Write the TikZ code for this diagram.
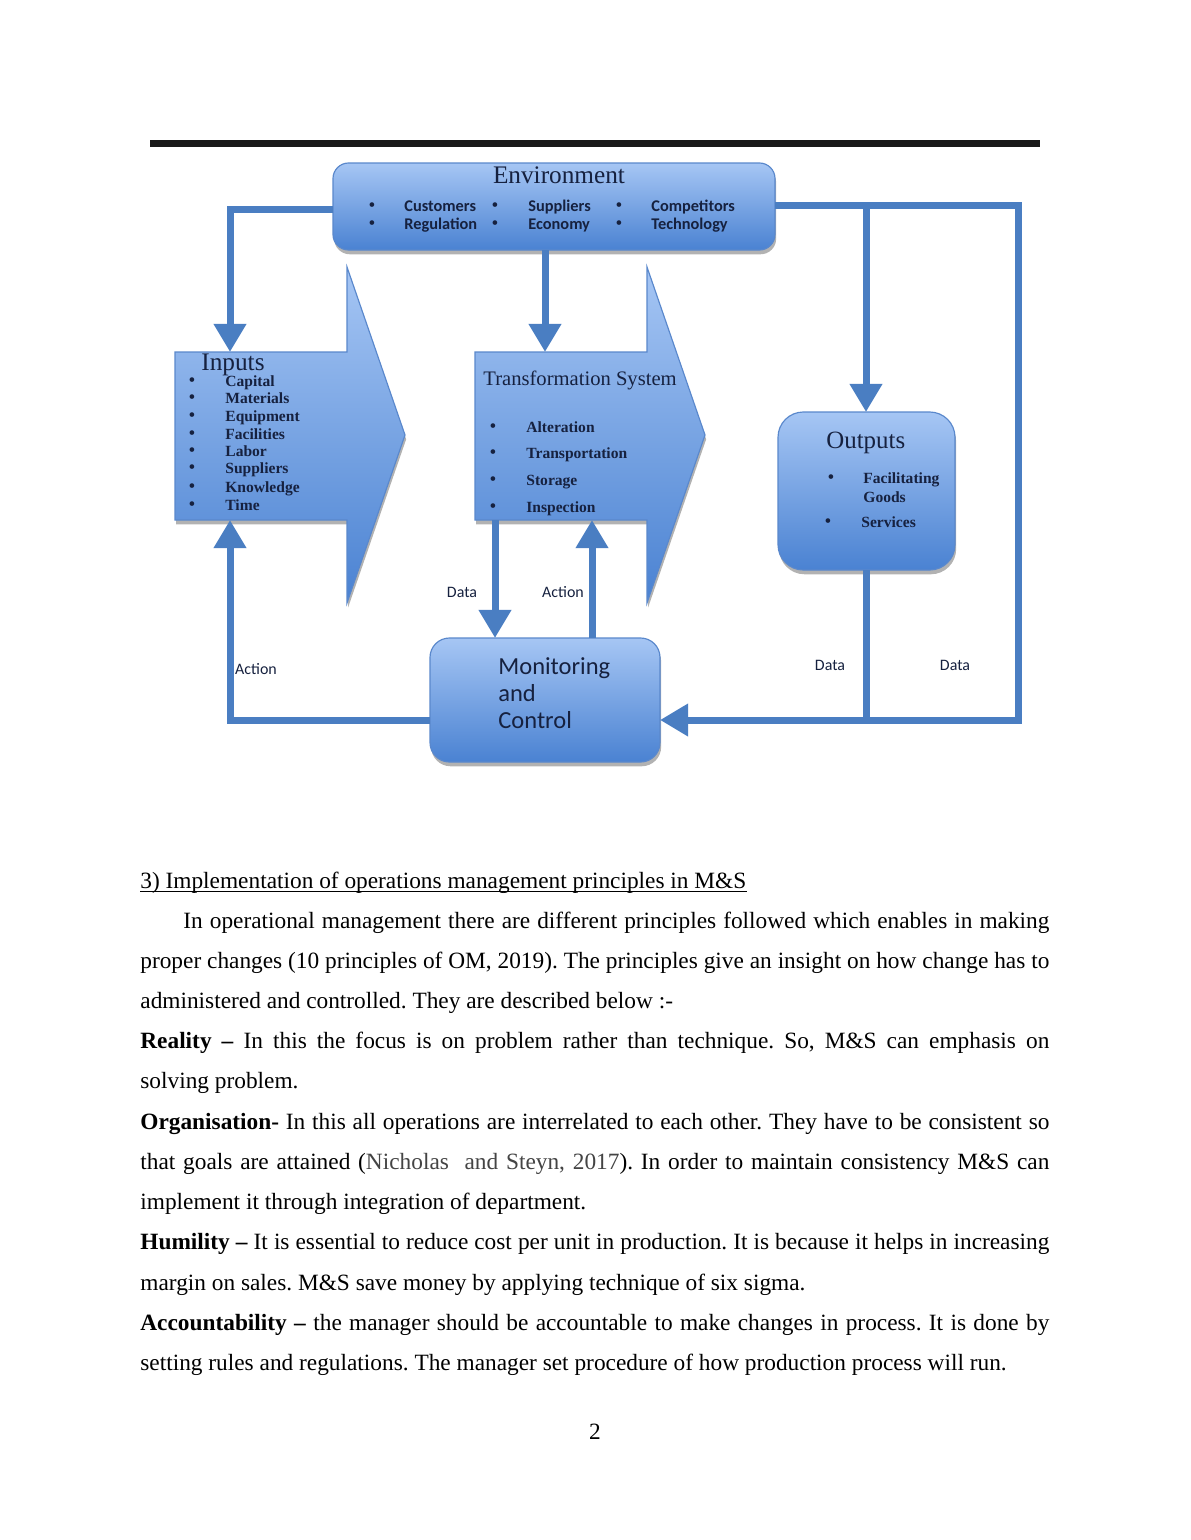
\documentclass[tikz,border=0pt]{standalone}
\usepackage{fontspec}
\setmainfont{Liberation Serif}
\newfontfamily\carl{Carlito}
\usetikzlibrary{arrows.meta,shadows}
\frenchspacing
\definecolor{boxtop}{HTML}{A6C6F4}
\definecolor{boxbot}{HTML}{4A82D2}
\definecolor{linec}{HTML}{4A7EC2}
\definecolor{edgec}{HTML}{5A88CC}
\definecolor{ink}{HTML}{16213F}
\definecolor{citec}{HTML}{444444}
\def\pxu{0.5143pt}
\tikzset{
  boxsh/.style={drop shadow={shadow xshift=0.6pt,shadow yshift=-2.2pt,opacity=0.3,fill=black}},
  bluebox/.style={draw=edgec,line width=0.6pt,top color=boxtop,bottom color=boxbot,boxsh},
  ghost/.style={inner sep=0pt,outer sep=0pt},
  conn/.style={draw=linec,line width=3.6pt},
  tipped/.style={-{Triangle[length=14.5pt,width=16pt]}},
  lbl/.style={inner sep=0pt,anchor=base,text=ink,font=\carl\fontsize{8.2}{9}\selectfont},
  itemtxt/.style={inner sep=0pt,anchor=base west,text=ink,font=\bfseries\fontsize{8}{9}\selectfont},
  envitem/.style={inner sep=0pt,anchor=base west,text=ink,font=\carl\bfseries\fontsize{8.4}{9}\selectfont},
  bul/.style={inner sep=0pt,anchor=base,text=ink,font=\fontsize{10}{11}\selectfont},
  bodyt/.style={inner sep=0pt,anchor=base west,font=\fontsize{12}{14}\selectfont},
}
\begin{document}
\begin{tikzpicture}[x=0.5143pt,y=-0.5143pt]
\useasboundingbox (0,0) rectangle (1190,1540);
\fill[white] (0,0) rectangle (1190,1540);

% top bar
\draw[line width=3.6pt,black!90] (150,143) -- (1040,143);

% helper coordinates
\coordinate (xL) at (230,209);
\coordinate (xT) at (545,0);
\coordinate (xR) at (1018,205);
\coordinate (xO) at (866,205);
\coordinate (yB) at (0,720);
\coordinate (xD) at (495,0);
\coordinate (xA) at (592,0);

% Environment
\node[bluebox,ghost,rounded corners=8pt,minimum width=442*\pxu,minimum height=87*\pxu] (env) at (554,206.5) {};
\node[inner sep=0pt,anchor=base,text=ink,font=\fontsize{13}{14}\selectfont] (envt) at (559,183) {Environment};
\node[bul] (eb1) at (372,211) {\textbullet};
\node[bul] (eb2) at (372,229) {\textbullet};
\node[bul] (eb3) at (495,211) {\textbullet};
\node[bul] (eb4) at (495,229) {\textbullet};
\node[bul] (eb5) at (619,211) {\textbullet};
\node[bul] (eb6) at (619,229) {\textbullet};
\node[envitem] (e1) at (404,211) {Customers};
\node[envitem] (e2) at (404,229) {Regulation};
\node[envitem] (e3) at (528,211) {Suppliers};
\node[envitem] (e4) at (528,229) {Economy};
\node[envitem] (e5) at (651,211) {Competitors};
\node[envitem] (e6) at (651,229) {Technology};

% Inputs arrow
\node[ghost,minimum width=172*\pxu,minimum height=168*\pxu] (inb) at (261,436) {};
\path[bluebox] (inb.north west) -- (inb.north east) -- ++(0,-85) -- ++(58,168) -- ++(-58,168) -- (inb.south east) -- (inb.south west) -- cycle;
\node[inner sep=0pt,anchor=base west,text=ink,font=\fontsize{13}{14}\selectfont] (int) at (201,370) {Inputs};
\foreach \t/\yy [count=\i] in {Capital/386,Materials/403,Equipment/421,Facilities/439,Labor/456,Suppliers/473,Knowledge/492,Time/510}{
  \node[bul] (ib\i) at (192,\yy) {\textbullet};
  \node[itemtxt] (ii\i) at (225,\yy) {\t};
}

% Transformation arrow
\node[ghost,minimum width=172*\pxu,minimum height=168*\pxu] (tsb) at (561,436) {};
\path[bluebox] (tsb.north west) -- (tsb.north east) -- ++(0,-85) -- ++(58,168) -- ++(-58,168) -- (tsb.south east) -- (tsb.south west) -- cycle;
\node[inner sep=0pt,anchor=base west,text=ink,font=\fontsize{10.6}{12}\selectfont] (tst) at (483,385) {Transformation System};
\foreach \t/\yy [count=\i] in {Alteration/432,Transportation/458,Storage/485,Inspection/512}{
  \node[bul] (tb\i) at (493,\yy) {\textbullet};
  \node[itemtxt] (ti\i) at (526,\yy) {\t};
}

% Outputs
\node[bluebox,ghost,rounded corners=13pt,minimum width=177*\pxu,minimum height=158*\pxu] (out) at (866.5,491) {};
\node[inner sep=0pt,anchor=base west,text=ink,font=\fontsize{12.8}{14}\selectfont] (outt) at (826,448) {Outputs};
\node[bul] (ob1) at (831,483) {\textbullet};
\node[itemtxt] (oi1) at (863,483) {Facilitating};
\node[itemtxt] (oi2) at (863,502) {Goods};
\node[bul] (ob2) at (828,527) {\textbullet};
\node[itemtxt] (oi3) at (861,527) {Services};

% Monitoring and Control
\node[bluebox,ghost,rounded corners=10pt,minimum width=230*\pxu,minimum height=124*\pxu] (mon) at (545,700) {};
\node[inner sep=0pt,anchor=base west,text=ink,font=\carl\fontsize{12.6}{14}\selectfont] (m1) at (498,674) {Monitoring};
\node[inner sep=0pt,anchor=base west,text=ink,font=\carl\fontsize{12.6}{14}\selectfont] (m2) at (498,701) {and};
\node[inner sep=0pt,anchor=base west,text=ink,font=\carl\fontsize{12.6}{14}\selectfont] (m3) at (498,728) {Control};

% connectors
\draw[conn,tipped] (env.west |- xL) -| (inb.north -| xL);
\draw[conn,tipped] (env.south -| xT) -- (tsb.north -| xT);
\draw[conn,tipped] (env.east |- xR) -- (xR) -- (xR |- yB) -- (mon.east |- yB);
\draw[conn,tipped] (xO) -- (out.north -| xO);
\draw[conn] (out.south -| xO) -- (xO |- yB);
\draw[conn,tipped] (mon.west |- yB) -| (inb.south -| xL);
\draw[conn,tipped] (tsb.south -| xD) -- (mon.north -| xD);
\draw[conn,tipped] (mon.north -| xA) -- (tsb.south -| xA);

% labels
\node[lbl] (ld1) at (462,597) {Data};
\node[lbl] (la1) at (563,597) {Action};
\node[lbl] (la2) at (256,674) {Action};
\node[lbl] (ld2) at (830,670) {Data};
\node[lbl] (ld3) at (955,670) {Data};

% text section
\node[bodyt] (hdr) at (140,888) {3) Implementation of operations management principles in M\&S};
\draw[line width=0.55pt] ([yshift=-1.6pt]hdr.base west) -- ([yshift=-1.6pt]hdr.base east);

\node[bodyt] (t1) at (183,928) {\hbox to 445.4pt{In operational management there are different principles followed which enables in making}};
\node[bodyt] (t2) at (140,968) {\hbox to 467.5pt{proper changes (10 principles of OM, 2019). The principles give an insight on how change has to}};
\node[bodyt] (t3) at (140,1008) {administered and controlled. They are described below :-};
\node[bodyt] (t4) at (140,1048) {\hbox to 467.5pt{\textbf{Reality –} In this the focus is on problem rather than technique. So, M\&S can emphasis on}};
\node[bodyt] (t5) at (140,1088) {solving problem.};
\node[bodyt] (t6) at (140,1129) {\hbox to 467.5pt{\textbf{Organisation-} In this all operations are interrelated to each other. They have to be consistent so}};
\node[bodyt] (t7) at (140,1169) {\hbox to 467.5pt{that goals are attained ({\color{citec}Nicholas\ \ and Steyn, 2017}). In order to maintain consistency M\&S can}};
\node[bodyt] (t8) at (140,1209) {implement it through integration of department.};
\node[bodyt] (t9) at (140,1249) {\hbox to 467.5pt{\textbf{Humility –} It is essential to reduce cost per unit in production. It is because it helps in increasing}};
\node[bodyt] (t10) at (140,1290) {margin on sales. M\&S save money by applying technique of six sigma.};
\node[bodyt] (t11) at (140,1330) {\hbox to 467.5pt{\textbf{Accountability –} the manager should be accountable to make changes in process. It is done by}};
\node[bodyt] (t12) at (140,1370) {setting rules and regulations. The manager set procedure of how production process will run.};

\node[inner sep=0pt,anchor=base,font=\fontsize{12}{14}\selectfont] (pg) at (595,1439) {2};
\end{tikzpicture}
\end{document}
